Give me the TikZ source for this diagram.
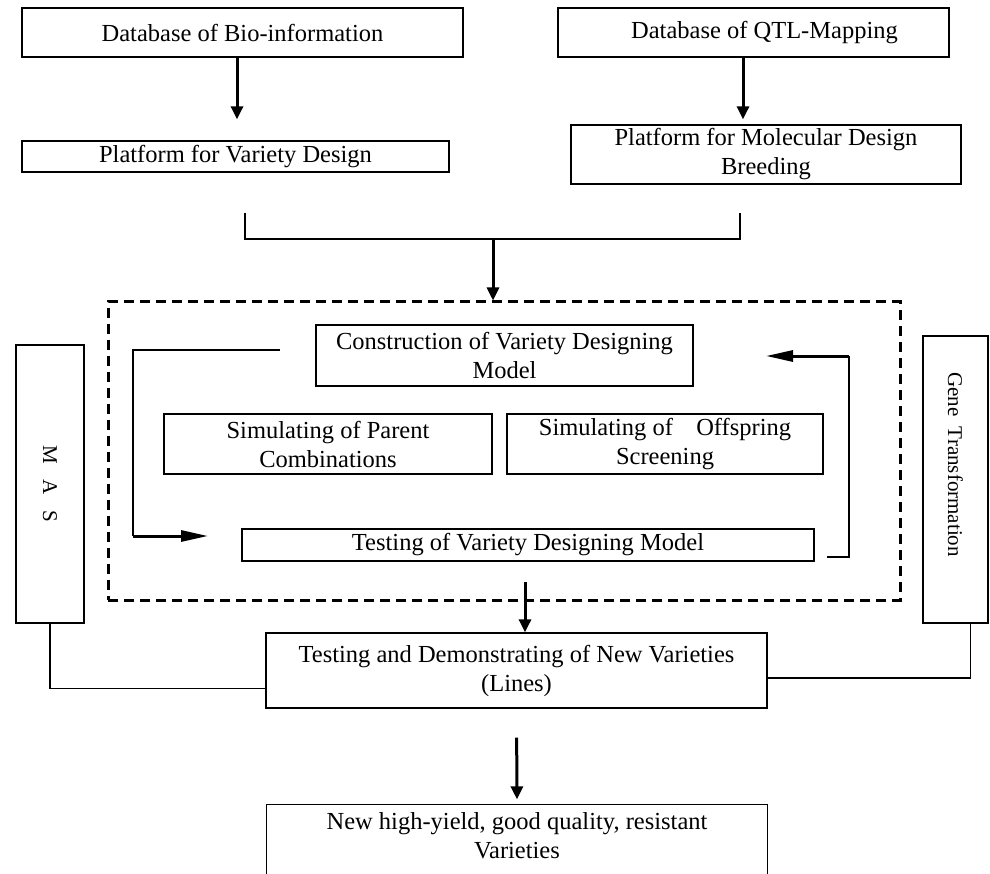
\documentclass[tikz,border=0pt]{standalone}
\usepackage{fontspec}
\setmainfont{Liberation Serif}
\usetikzlibrary{arrows.meta}
\begin{document}
\begin{tikzpicture}[x=1pt, y=-1pt,
  box/.style={draw, line width=1.3pt, inner sep=0pt, align=center,
    font=\fontsize{24.5}{29}\selectfont},
  sidebox/.style={box, rotate=-90, font=\fontsize{21}{25}\selectfont},
  dashbox/.style={draw, line width=3pt, dash pattern=on 10pt off 6pt},
  line/.style={line width=1.3pt},
  arr/.style={line width=3pt, -{Triangle[length=13pt,width=12pt]}},
  looparr/.style={line width=3pt, -{Triangle[length=27pt,width=11pt]}}]
  \useasboundingbox (0,0) rectangle (990,874);
  \clip (0,0) rectangle (990,874);
  \node[box, minimum width=441pt, minimum height=49pt] (bio) at (242.5,32.5) {Database of Bio-information};
  \node[box, minimum width=391pt, minimum height=49pt] (qtl) at (753.5,32.5) {\hspace*{22pt}Database of QTL-Mapping};
  \node[box, minimum width=427pt, minimum height=31pt] (pvd) at (235.5,156.5) {Platform for Variety Design};
  \node[box, minimum width=390pt, minimum height=59pt] (pmd) at (766,154.5) {Platform for Molecular Design\\Breeding};
  \node[dashbox, minimum width=792pt, minimum height=298pt] (lab) at (504,451) {};
  \node[box, minimum width=377pt, minimum height=61pt] (cvd) at (504.5,355.5) {Construction of Variety Designing\\Model};
  \node[box, minimum width=328pt, minimum height=60pt] (spc) at (328,444) {Simulating of Parent\\Combinations};
  \node[box, minimum width=316pt, minimum height=60pt] (sos) at (665,444) {Simulating of\hspace{0.7em} Offspring\\Screening};
  \node[box, minimum width=572pt, minimum height=32pt] (tvd) at (528,545) {Testing of Variety Designing Model};
  \node[sidebox, minimum width=278pt, minimum height=68pt] (mas) at (50,484) {M\hspace{.75em}A\hspace{.75em}S};
  \node[sidebox, minimum width=287pt, minimum height=65pt] (gene) at (955.5,479.5) {Gene\hspace{.5em}Transformation\hspace*{30pt}};
  \node[box, minimum width=501pt, minimum height=75pt] (tdn) at (516.5,670.5) {Testing and Demonstrating of New Varieties\\(Lines)};
  \node[box, draw=none, minimum width=500pt, minimum height=62pt] (nhv) at (517,836) {New high-yield, good quality, resistant\\Varieties};
  \draw[line] ([yshift=-20pt]nhv.south west) |- (nhv.north east) -- ([yshift=-20pt]nhv.south east);

  \draw[arr, shorten >=21pt] ([xshift=-5.5pt]bio.south) -- ([xshift=-5.5pt]bio.south |- pvd.north);
  \draw[arr, shorten >=5pt] ([xshift=-10.5pt]qtl.south) -- ([xshift=-10.5pt]qtl.south |- pmd.north);
  \coordinate (bl) at (245,213);
  \coordinate (br) at (740,213);
  \coordinate (bm) at (493,239);
  \draw[line] (bl) |- (bm) -| (br);
  \draw[arr] (bm) -- (bm |- lab.north);

  \coordinate (la) at (280,350);
  \coordinate (lb) at (208,536);
  \draw[line] (la) -- ++(-147,0) coordinate (lc) -- (lc |- lb) coordinate (ld);
  \draw[looparr] (ld) -- (lb);
  \coordinate (ra) at (827,557);
  \coordinate (rb) at (766,356);
  \draw[line] (ra) -- ++(22,0) coordinate (rc) -- (rc |- rb) coordinate (rd);
  \draw[looparr] (rd) -- (rb);

  \coordinate (lo) at (525,582);
  \draw[arr] (lo) -- (lo |- tdn.north);
  \draw[line] (mas.east) |- ([yshift=-18pt]tdn.west);
  \draw[line] ([xshift=15pt]gene.east) |- ([yshift=-7.5pt]tdn.east);
  \draw[arr, shorten <=29pt, shorten >=5pt] (tdn.south) -- (nhv.north);
\end{tikzpicture}
\end{document}
